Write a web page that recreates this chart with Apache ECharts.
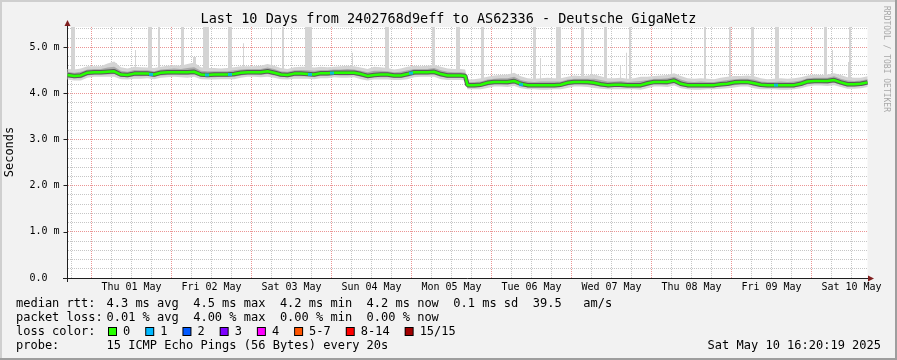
<!DOCTYPE html>
<html><head><meta charset="utf-8">
<script src="https://cdn.jsdelivr.net/npm/echarts@6/dist/echarts.min.js"></script>
<style>html,body{margin:0;padding:0;background:#f2f2f2;overflow:hidden}#c{width:897px;height:360px}</style>
</head><body><div id="c"></div>
<script>
// ---------- data ----------
const titleText = 'Last 10 Days from 2402768d9eff to AS62336 - Deutsche GigaNetz';
const dayLabels = ['Thu 01 May','Fri 02 May','Sat 03 May','Sun 04 May','Mon 05 May','Tue 06 May','Wed 07 May','Thu 08 May','Fri 09 May','Sat 10 May'];
const dayLabelHours = [12,36,60,84,108,132,156,180,204,228];
const majorHours = [0,24,48,72,96,120,144,168,192,216];
const minorHours = [-6,6,12,18,30,36,42,54,60,66,78,84,90,102,108,114,126,132,138,150,156,162,174,180,186,198,204,210,222,228];
const yLabelValues = [0,1,2,3,4,5];
const yLabelTexts = ['0.0','1.0 m','2.0 m','3.0 m','4.0 m','5.0 m'];
const yMajorGrid = [1,2,3,4,5];
const yMinorGrid = [0.2,0.4,0.6,0.8,1.2,1.4,1.6,1.8,2.2,2.4,2.6,2.8,3.2,3.4,3.6,3.8,4.2,4.4,4.6,4.8,5.2,5.4];

// sample times (hours since Thu 01 May 00:00)
const times = [];
for (let i = 0; i < 60; i++) times.push(-7.2 + 2 * i);
times.push(112.1);
for (let k = 0; k <= 60; k++) times.push(112.8 + 2 * k);

// median rtt (ms)
const median = [
4.40,4.38,4.39,4.45,4.46,4.46,4.47,4.48,4.41,4.40,
4.43,4.43,4.43,4.41,4.45,4.46,4.46,4.46,4.46,4.47,
4.41,4.40,4.41,4.41,4.41,4.42,4.45,4.46,4.46,4.46,
4.48,4.45,4.41,4.40,4.43,4.43,4.42,4.41,4.44,4.44,
4.45,4.45,4.45,4.45,4.42,4.38,4.40,4.41,4.41,4.39,
4.39,4.42,4.46,4.46,4.46,4.47,4.42,4.39,4.39,4.39,
4.38,
4.18,4.18,4.19,4.23,4.25,4.25,4.25,4.27,4.21,4.18,
4.18,4.18,4.18,4.18,4.19,4.23,4.25,4.25,4.25,4.23,
4.20,4.18,4.19,4.19,4.18,4.18,4.18,4.22,4.25,4.25,
4.25,4.28,4.21,4.18,4.18,4.18,4.18,4.18,4.20,4.21,
4.24,4.25,4.25,4.22,4.19,4.18,4.18,4.18,4.18,4.18,
4.21,4.26,4.27,4.27,4.27,4.29,4.24,4.20,4.20,4.21,
4.24];

// smoke extent above / below the median (ms)
const smokeUp = [
0.13,0.14,0.15,0.14,0.13,0.13,0.18,0.21,0.16,0.14,
0.15,0.14,0.13,0.14,0.13,0.14,0.15,0.14,0.18,0.20,
0.16,0.15,0.14,0.13,0.14,0.15,0.14,0.13,0.13,0.14,
0.16,0.15,0.14,0.13,0.14,0.15,0.16,0.15,0.14,0.13,
0.13,0.14,0.15,0.14,0.14,0.15,0.18,0.16,0.14,0.13,
0.15,0.16,0.14,0.13,0.14,0.15,0.16,0.15,0.14,0.14,
0.14,
0.12,0.13,0.14,0.13,0.14,0.15,0.16,0.18,0.16,0.15,
0.14,0.15,0.16,0.15,0.14,0.13,0.14,0.13,0.14,0.18,
0.17,0.15,0.14,0.15,0.14,0.15,0.18,0.14,0.13,0.14,
0.15,0.16,0.17,0.15,0.14,0.15,0.14,0.13,0.14,0.15,
0.14,0.13,0.14,0.15,0.14,0.13,0.14,0.15,0.14,0.15,
0.14,0.13,0.14,0.13,0.14,0.15,0.16,0.15,0.14,0.13,
0.13];
const smokeDown = [
0.10,0.10,0.11,0.11,0.10,0.10,0.11,0.12,0.10,0.10,
0.11,0.11,0.10,0.10,0.11,0.11,0.10,0.11,0.12,0.11,
0.10,0.10,0.11,0.10,0.10,0.11,0.11,0.10,0.10,0.11,
0.12,0.11,0.10,0.10,0.11,0.11,0.10,0.10,0.11,0.11,
0.10,0.11,0.11,0.10,0.11,0.10,0.10,0.11,0.11,0.10,
0.10,0.11,0.11,0.10,0.10,0.11,0.11,0.10,0.10,0.10,
0.10,
0.09,0.09,0.10,0.11,0.10,0.10,0.11,0.11,0.10,0.09,
0.09,0.10,0.10,0.09,0.10,0.11,0.10,0.10,0.11,0.11,
0.10,0.09,0.10,0.10,0.09,0.09,0.10,0.11,0.10,0.10,
0.11,0.11,0.10,0.09,0.10,0.10,0.09,0.09,0.10,0.10,
0.11,0.10,0.10,0.11,0.10,0.09,0.09,0.10,0.10,0.09,
0.10,0.11,0.10,0.10,0.11,0.11,0.10,0.10,0.10,0.10,
0.10];
const coreUp = [
0.07,0.07,0.08,0.07,0.07,0.07,0.09,0.10,0.08,0.07,
0.08,0.07,0.07,0.07,0.07,0.07,0.08,0.07,0.09,0.10,
0.08,0.08,0.07,0.07,0.07,0.08,0.07,0.07,0.07,0.07,
0.08,0.08,0.07,0.07,0.07,0.08,0.08,0.08,0.07,0.07,
0.07,0.07,0.08,0.07,0.07,0.08,0.09,0.08,0.07,0.07,
0.08,0.08,0.07,0.07,0.07,0.08,0.08,0.08,0.07,0.07,
0.07,
0.06,0.07,0.07,0.07,0.07,0.08,0.08,0.09,0.08,0.08,
0.07,0.08,0.08,0.08,0.07,0.07,0.07,0.07,0.07,0.09,
0.09,0.08,0.07,0.08,0.07,0.08,0.09,0.07,0.07,0.07,
0.08,0.08,0.09,0.08,0.07,0.08,0.07,0.07,0.07,0.08,
0.07,0.07,0.07,0.08,0.07,0.07,0.07,0.08,0.07,0.08,
0.07,0.07,0.07,0.07,0.07,0.08,0.08,0.08,0.07,0.07,
0.07];
const coreDown = [
0.05,0.05,0.06,0.06,0.05,0.05,0.06,0.06,0.05,0.05,
0.06,0.06,0.05,0.05,0.06,0.06,0.05,0.06,0.06,0.06,
0.05,0.05,0.06,0.05,0.05,0.06,0.06,0.05,0.05,0.06,
0.06,0.06,0.05,0.05,0.06,0.06,0.05,0.05,0.06,0.06,
0.05,0.06,0.06,0.05,0.06,0.05,0.05,0.06,0.06,0.05,
0.05,0.06,0.06,0.05,0.05,0.06,0.06,0.05,0.05,0.05,
0.05,
0.05,0.05,0.05,0.06,0.05,0.05,0.06,0.06,0.05,0.05,
0.05,0.05,0.05,0.05,0.05,0.06,0.05,0.05,0.06,0.06,
0.05,0.05,0.05,0.05,0.05,0.05,0.05,0.06,0.05,0.05,
0.06,0.06,0.05,0.05,0.05,0.05,0.05,0.05,0.05,0.05,
0.06,0.05,0.05,0.06,0.05,0.05,0.05,0.05,0.05,0.05,
0.05,0.06,0.05,0.05,0.06,0.06,0.05,0.05,0.05,0.05,
0.05];

// tall outliers (start hour, end hour, top ms)
const spikeStart = [-6.15,6.45,7.35,13.05,16.95,19.95,26.85,30.45,33.45,40.95,45.45,53.85,57.15,64.05,78.15,88.05,102.15,109.35,116.85,125.85,132.45,134.55,139.35,146.85,149.85,153.75,158.55,160.35,161.25,173.85,183.75,191.25,197.85,205.05,219.75,222.15,226.95,227.25];
const spikeEnd   = [-4.95,7.05,7.65,13.35,18.15,20.55,27.75,31.35,35.25,42.15,45.75,54.15,57.75,66.15,78.45,89.25,103.05,110.55,117.75,126.15,133.35,134.85,140.85,147.75,150.15,154.65,158.85,160.65,161.85,174.15,184.35,191.85,198.75,206.25,220.65,222.45,227.25,227.85];
const spikeTop   = [5.44,4.68,4.66,4.94,5.44,5.44,5.44,4.79,5.44,5.44,5.09,5.44,5.44,5.44,4.88,5.44,5.44,5.44,5.44,4.58,5.44,4.77,5.44,5.44,4.60,5.44,4.60,4.88,5.44,4.77,5.44,5.44,5.44,5.44,5.44,4.94,4.68,5.44];

// samples with 1 lost ping
const lossTimes = [17.85,34.65,41.55,65.55,72.15,95.85,128.85,205.35];
const lossValues = [4.41,4.40,4.41,4.41,4.44,4.44,4.19,4.18];

const lossColors = ['#26ff00','#00b8ff','#0059ff','#7e00ff','#ff00ff','#ff5500','#ff0000','#a10000'];
const lossLabels = ['0','1','2','3','4','5-7','8-14','15/15'];

const legendRows = [
  ['median rtt:', '4.3 ms avg  4.5 ms max  4.2 ms min  4.2 ms now  0.1 ms sd  39.5   am/s'],
  ['packet loss:', '0.01 % avg  4.00 % max  0.00 % min  0.00 % now'],
  ['loss color:', ''],
  ['probe:', '15 ICMP Echo Pings (56 Bytes) every 20s']
];
const stampText = 'Sat May 10 16:20:19 2025';

// ---------- chart ----------
const FONT = 'DejaVu Sans Mono';
const X_MIN = -7.2, X_MAX = 232.8, Y_MAX = 5.44;

function medianAt(t) {
  let idx = 0;
  for (let i = 0; i < times.length; i++) { if (times[i] <= t) idx = i; }
  return median[idx];
}

const smokeRows = times.map((t, i) => [t, median[i], median[i] + smokeUp[i], median[i] - smokeDown[i], median[i] + coreUp[i], median[i] - coreDown[i]]);
const medianData = times.map((t, i) => [t, median[i]]);
const spikeData = spikeStart.map((s, i) => [s, spikeEnd[i], spikeTop[i]]);

const GRID_MINOR = '#c6c6c6';
const GRID_MAJOR = '#eb9595';
const SMOKE_OUT = '#d4d4d4';
const SMOKE_CORE = '#ababab';

function bandPolygon(api, hiCol, loCol) {
  const pts = [];
  for (let i = 0; i < smokeRows.length; i++) pts.push(api.coord([smokeRows[i][0], smokeRows[i][hiCol]]));
  for (let i = smokeRows.length - 1; i >= 0; i--) pts.push(api.coord([smokeRows[i][0], smokeRows[i][loCol]]));
  return pts;
}

const graphics = [];
// frame
graphics.push({ type: 'rect', shape: { x: 0, y: 0, width: 897, height: 2 }, style: { fill: '#cfcfcf' }, silent: true });
graphics.push({ type: 'rect', shape: { x: 0, y: 0, width: 2, height: 360 }, style: { fill: '#cfcfcf' }, silent: true });
graphics.push({ type: 'rect', shape: { x: 0, y: 358, width: 897, height: 2 }, style: { fill: '#9e9e9e' }, silent: true });
graphics.push({ type: 'rect', shape: { x: 895, y: 0, width: 2, height: 360 }, style: { fill: '#9e9e9e' }, silent: true });
// title
graphics.push({ type: 'text', x: 448.5, y: 19, style: { text: titleText, fontFamily: FONT, fontSize: 13.5, fill: '#000', align: 'center', verticalAlign: 'middle' }, silent: true });
// axis title
graphics.push({ type: 'text', x: 10, y: 152, rotation: Math.PI / 2, style: { text: 'Seconds', fontFamily: FONT, fontSize: 12, fill: '#000', align: 'center', verticalAlign: 'middle' }, silent: true });
// watermark
graphics.push({ type: 'text', x: 886, y: 59, rotation: -Math.PI / 2, style: { text: 'RRDTOOL / TOBI OETIKER', fontFamily: FONT, fontSize: 8, fill: '#a8a8a8', align: 'center', verticalAlign: 'middle' }, silent: true });
// axis extensions and arrows
graphics.push({ type: 'rect', shape: { x: 67, y: 23, width: 1, height: 4 }, style: { fill: '#1f1f1f' }, silent: true });
graphics.push({ type: 'rect', shape: { x: 67, y: 278, width: 1, height: 4 }, style: { fill: '#1f1f1f' }, silent: true });
graphics.push({ type: 'rect', shape: { x: 63, y: 278, width: 4, height: 1 }, style: { fill: '#1f1f1f' }, silent: true });
graphics.push({ type: 'rect', shape: { x: 867, y: 278, width: 3, height: 1 }, style: { fill: '#1f1f1f' }, silent: true });
graphics.push({ type: 'polygon', shape: { points: [[64.5, 26], [70.5, 26], [67.5, 20]] }, style: { fill: '#801f1f' }, silent: true });
graphics.push({ type: 'polygon', shape: { points: [[868, 275.5], [868, 281.5], [874, 278.5]] }, style: { fill: '#801f1f' }, silent: true });

// legend
const rowY = [303.5, 318, 332.3, 346.3];
legendRows.forEach((r, i) => {
  graphics.push({ type: 'text', x: 16, y: rowY[i], style: { text: r[0], fontFamily: FONT, fontSize: 12, fill: '#000', verticalAlign: 'middle' }, silent: true });
  if (r[1]) graphics.push({ type: 'text', x: 106.5, y: rowY[i], style: { text: r[1], fontFamily: FONT, fontSize: 12, fill: '#000', verticalAlign: 'middle' }, silent: true });
});
let bx = 108;
lossLabels.forEach((lab, i) => {
  graphics.push({ type: 'rect', shape: { x: bx, y: 327, width: 9, height: 9 }, style: { fill: '#000' }, silent: true });
  graphics.push({ type: 'rect', shape: { x: bx + 1, y: 328, width: 7, height: 7 }, style: { fill: lossColors[i] }, silent: true });
  graphics.push({ type: 'text', x: bx + 15, y: rowY[2], style: { text: lab, fontFamily: FONT, fontSize: 12, fill: '#000', verticalAlign: 'middle' }, silent: true });
  bx += 15 + 7.22 * lab.length + 15;
});
graphics.push({ type: 'text', x: 881, y: rowY[3], style: { text: stampText, fontFamily: FONT, fontSize: 12, fill: '#000', align: 'right', verticalAlign: 'middle' }, silent: true });

const chart = echarts.init(document.getElementById('c'), null, { renderer: 'canvas', width: 897, height: 360 });
chart.setOption({
  animation: false,
  backgroundColor: '#f2f2f2',
  grid: { left: 67.5, top: 27, width: 800, height: 251, show: true, backgroundColor: '#ffffff', borderWidth: 0 },
  xAxis: {
    type: 'value', min: X_MIN, max: X_MAX,
    axisLine: { show: true, onZero: false, lineStyle: { color: '#1f1f1f', width: 1 } },
    axisTick: { show: false },
    splitLine: { show: false },
    axisLabel: {
      customValues: dayLabelHours,
      formatter: (v) => { const k = dayLabelHours.indexOf(Math.round(v)); return k >= 0 ? dayLabels[k] : ''; },
      fontFamily: FONT, fontSize: 10, color: '#000', margin: 4
    }
  },
  yAxis: {
    type: 'value', min: 0, max: Y_MAX,
    axisLine: { show: true, onZero: false, lineStyle: { color: '#1f1f1f', width: 1 } },
    axisTick: { show: true, length: 4, customValues: yLabelValues, lineStyle: { color: '#1f1f1f' } },
    splitLine: { show: false },
    axisLabel: {
      customValues: yLabelValues,
      formatter: (v) => { const k = yLabelValues.indexOf(Math.round(v * 100) / 100); return k >= 0 ? yLabelTexts[k] : ''; },
      fontFamily: FONT, fontSize: 10, color: '#000', align: 'left', margin: 38
    }
  },
  series: [
    { type: 'custom', name: 'spikes', z: 3, silent: true, data: spikeData, encode: { x: [0, 1], y: 2 },
      renderItem: (params, api) => {
        const t0 = api.value(0), t1 = api.value(1), top = api.value(2);
        const base = medianAt((t0 + t1) / 2);
        const p0 = api.coord([t0, top]);
        const p1 = api.coord([t1, base]);
        return { type: 'rect', shape: { x: p0[0], y: p0[1], width: Math.max(1, p1[0] - p0[0]), height: p1[1] - p0[1] }, style: { fill: SMOKE_OUT } };
      } },
    { type: 'custom', name: 'smoke', z: 4, silent: true, data: smokeRows, encode: { x: 0, y: [2, 3] },
      renderItem: (params, api) => {
        if (params.dataIndex !== 0) return null;
        return { type: 'group', children: [
          { type: 'polygon', shape: { points: bandPolygon(api, 2, 3) }, style: { fill: SMOKE_OUT } },
          { type: 'polygon', shape: { points: bandPolygon(api, 4, 5) }, style: { fill: SMOKE_CORE } }
        ] };
      } },
    { type: 'line', name: 'halo', z: 5, data: medianData, symbol: 'none', lineStyle: { color: '#5a5a5a', width: 4.5 }, silent: true },
    { type: 'line', name: 'median', z: 6, data: medianData, symbol: 'none', lineStyle: { color: '#26ff00', width: 2.5 }, silent: true },
    { type: 'scatter', name: 'loss', z: 7, data: lossTimes.map((t, i) => [t, lossValues[i]]), symbol: 'rect', symbolSize: [4, 3], itemStyle: { color: '#00b8ff' }, silent: true }
  ]
});

// dotted grid, placed through the axis scales
const gridEls = [];
const gx0 = Math.ceil(chart.convertToPixel({ xAxisIndex: 0 }, X_MIN));
const gx1 = chart.convertToPixel({ xAxisIndex: 0 }, X_MAX);
const gy0 = Math.round(chart.convertToPixel({ yAxisIndex: 0 }, Y_MAX));
const gy1 = chart.convertToPixel({ yAxisIndex: 0 }, 0);
function vline(h, col) {
  const x = Math.floor(chart.convertToPixel({ xAxisIndex: 0 }, h)) + 0.5;
  gridEls.push({ type: 'line', z: 1, silent: true, shape: { x1: x, y1: gy0, x2: x, y2: gy1 }, style: { stroke: col, lineWidth: 1, lineDash: [1, 1] } });
}
function hline(v, col) {
  const y = Math.floor(chart.convertToPixel({ yAxisIndex: 0 }, v)) + 0.5;
  gridEls.push({ type: 'line', z: 1, silent: true, shape: { x1: gx0, y1: y, x2: gx1, y2: y }, style: { stroke: col, lineWidth: 1, lineDash: [1, 1] } });
}
minorHours.forEach(h => vline(h, GRID_MINOR));
yMinorGrid.forEach(v => hline(v, GRID_MINOR));
majorHours.forEach(h => vline(h, GRID_MAJOR));
yMajorGrid.forEach(v => hline(v, GRID_MAJOR));

chart.setOption({ graphic: { elements: gridEls.concat(graphics) } });
</script>
</body></html>
